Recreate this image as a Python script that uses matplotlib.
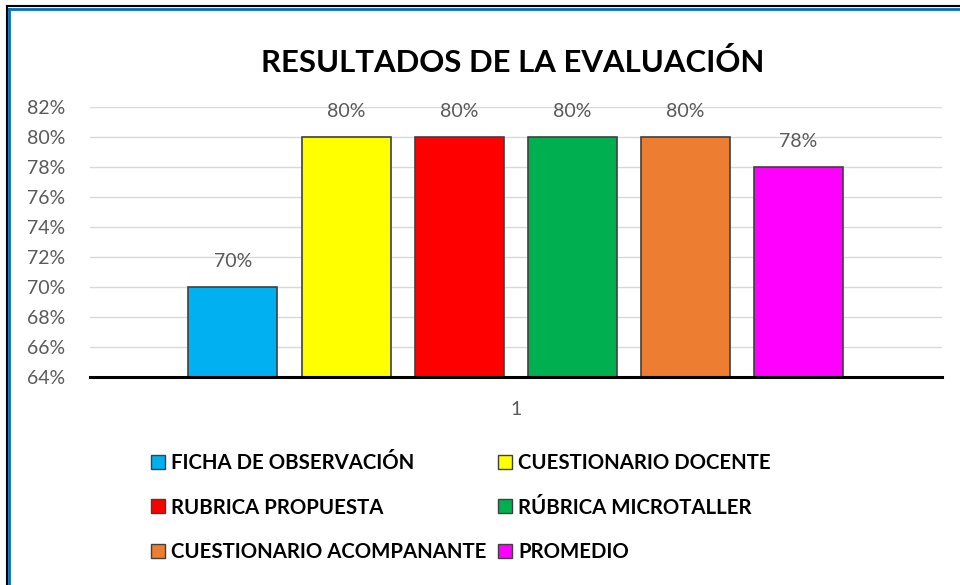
import matplotlib
matplotlib.use('Agg')
import matplotlib.pyplot as plt
from matplotlib.lines import Line2D
from matplotlib.patches import Patch
import numpy as np

plt.rcParams['font.family'] = ['Lato', 'DejaVu Sans']

# data
series = ['FICHA DE OBSERVACIÓN', 'CUESTIONARIO DOCENTE', 'RUBRICA PROPUESTA',
          'RÚBRICA MICROTALLER', 'CUESTIONARIO ACOMPANANTE', 'PROMEDIO']
values = [0.70, 0.80, 0.80, 0.80, 0.80, 0.78]
colors = ['#00B0F0', '#FFFF00', '#FF0000', '#00B050', '#ED7D31', '#FF00FF']
category = '1'
yticks = np.arange(0.64, 0.8201, 0.02)

fig = plt.figure(figsize=(9.6, 5.85), dpi=100)
ax = fig.add_axes([90 / 960, 1 - 377 / 585, 852 / 960, 270 / 585])

x = np.arange(len(values))
for i, (v, c, s) in enumerate(zip(values, colors, series)):
    b = ax.bar(x[i], v, width=0.787, color=c, edgecolor='#404040', linewidth=1.2, label=s, zorder=3)
    ax.bar_label(b, labels=[f'{v:.0%}'], padding=12, fontsize=14, color='#595959')

ax.set_ylim(0.64, 0.82)
ax.set_xlim(-1.264, 6.27)
ax.set_yticks(yticks)
ax.set_yticklabels([f'{t:.0%}' for t in yticks], fontsize=14, color='#595959')
ax.set_xticks([x.mean()])
ax.set_xticklabels([category], fontsize=14, color='#595959')
ax.tick_params(length=0)
ax.tick_params(axis='x', pad=17)
ax.tick_params(axis='y', pad=18)
ax.grid(axis='y', color='#d9d9d9', linewidth=1, zorder=0)
for s in ['left', 'right', 'top']:
    ax.spines[s].set_visible(False)
ax.spines['bottom'].set_linewidth(2.2)
ax.spines['bottom'].set_zorder(4)

fig.text(0.534, 1 - 62 / 585, 'RESULTADOS DE LA EVALUACIÓN', ha='center', va='center',
         fontsize=22.4, fontweight='bold', color='black')

# legend, row-wise order like Excel
order = [0, 2, 4, 1, 3, 5]
handles = [Patch(facecolor=colors[i], edgecolor='#404040', linewidth=1) for i in order]
labels = [series[i] for i in order]
fig.legend(handles, labels, ncol=2, loc='upper left', bbox_to_anchor=(151 / 960, 1 - 453 / 585),
           frameon=False, prop={'weight': 'bold', 'size': 14.7}, handlelength=0.68, handleheight=0.68,
           handletextpad=0.32, labelspacing=1.2, columnspacing=0.55, borderpad=0, borderaxespad=0)

# border lines (left and top visible)
fig.add_artist(Line2D([7 / 960, 7 / 960], [0, 1 - 6 / 585], color='black', linewidth=1.5, transform=fig.transFigure))
fig.add_artist(Line2D([9 / 960, 9 / 960], [0, 1 - 9 / 585], color='#0070C0', linewidth=2, transform=fig.transFigure))
fig.add_artist(Line2D([7 / 960, 1], [1 - 6 / 585, 1 - 6 / 585], color='black', linewidth=1.5, transform=fig.transFigure))
fig.add_artist(Line2D([9 / 960, 1], [1 - 9 / 585, 1 - 9 / 585], color='#0070C0', linewidth=2, transform=fig.transFigure))

fig.savefig('out.png', dpi=100)
